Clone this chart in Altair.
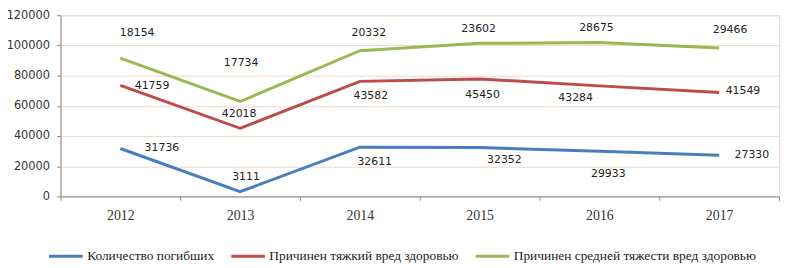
import altair as alt
import pandas as pd

years = ["2012", "2013", "2014", "2015", "2016", "2017"]
series_names = ["Количество погибших", "Причинен тяжкий вред здоровью",
                "Причинен средней тяжести вред здоровью"]
deaths = [31736, 3111, 32611, 32352, 29933, 27330]
severe = [41759, 42018, 43582, 45450, 43284, 41549]
moderate = [18154, 17734, 20332, 23602, 28675, 29466]
colors = ["#4a7ebb", "#be4b48", "#98b954"]
y_ticks = [0, 20000, 40000, 60000, 80000, 100000, 120000]

# label placement offsets (pixels) per series, per year
label_dx = [[42, 6, 15, 25, 9, 33],
            [32, -1, 11, 3, -24, 24],
            [17, 1, 9, -1, -3, 11]]
label_dy = [[0, -15, 15, 13, 23, 0],
            [1, -14, 15, 16, 12, -1],
            [-25, -39, -18, -14, -15, -18]]

rows = []
for i, y in enumerate(years):
    cum = 0
    for s, vals in enumerate([deaths, severe, moderate]):
        cum += vals[i]
        rows.append({"year": y, "series": series_names[s], "value": vals[i],
                     "top": cum, "s": s, "i": i})
df = pd.DataFrame(rows)

x_enc = alt.X("year:N", sort=years, title=None,
              scale=alt.Scale(paddingInner=0, paddingOuter=0),
              axis=alt.Axis(labelAngle=0, tickBand="extent", domainColor="#8c8c8c",
                            tickColor="#8c8c8c", tickSize=4, labelPadding=8,
                            labelFont="Liberation Serif", labelFontSize=14,
                            labelColor="#333333", grid=False))
y_enc = alt.Y("top:Q", title=None,
              scale=alt.Scale(domain=[0, 120000], nice=False),
              axis=alt.Axis(values=y_ticks, format="d", labelOverlap=False,
                            domainColor="#8c8c8c", tickColor="#8c8c8c",
                            tickSize=4, labelPadding=7, labelFont="DejaVu Sans",
                            labelFontSize=11.5, labelColor="#333333",
                            gridColor="#f0d9c6", gridWidth=1))

lines = alt.Chart(df).mark_line(strokeWidth=3).encode(
    x=x_enc, y=y_enc,
    color=alt.Color("series:N", sort=series_names,
                    scale=alt.Scale(domain=series_names, range=colors),
                    legend=alt.Legend(title=None, orient="none", direction="horizontal",
                                      legendX=-13, legendY=225, symbolType="stroke",
                                      symbolSize=1156, symbolStrokeWidth=3,
                                      labelFont="Liberation Serif", labelFontSize=13.5,
                                      labelColor="#222222", columnPadding=10,
                                      labelOffset=3, padding=0, labelLimit=400)),
    detail="series:N",
)

layers = [lines]
for s in range(3):
    for i in range(len(years)):
        sub = df[(df.s == s) & (df.i == i)]
        layers.append(
            alt.Chart(sub).mark_text(font="DejaVu Sans", fontSize=11, color="#222222",
                                     dx=label_dx[s][i], dy=label_dy[s][i]).encode(
                x=x_enc,
                y=y_enc,
                text=alt.Text("value:Q", format="d"),
            )
        )

chart = alt.layer(*layers).properties(
    width=726, height=183,
    autosize=alt.AutoSizeParams(type="none"),
    padding={"left": 53, "top": 6, "right": 6, "bottom": 71},
).configure_view(fill="#fffcf2", stroke=None).configure(background="white")

chart.save("out.html", embed_options={"renderer": "svg", "actions": False})
